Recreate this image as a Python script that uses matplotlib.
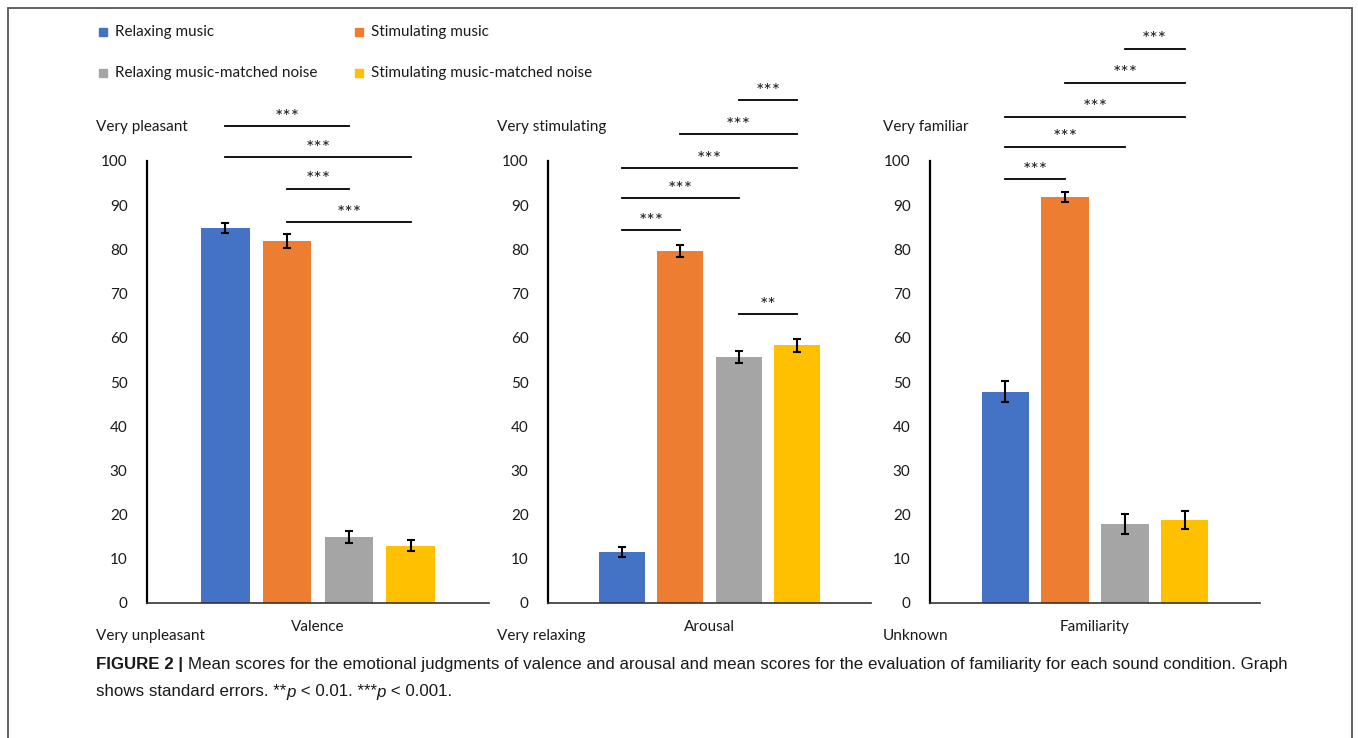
"""Mean valence / arousal / familiarity scores per sound condition."""

import matplotlib
matplotlib.use("Agg")
import matplotlib.pyplot as plt
from matplotlib.patches import Rectangle

conditions = [
    "Relaxing music",
    "Stimulating music",
    "Relaxing music-matched noise",
    "Stimulating music-matched noise",
]
colors = ["#4472C4", "#ED7D31", "#A5A5A5", "#FFC000"]

panel_names = ["Valence", "Arousal", "Familiarity"]
top_labels = ["Very pleasant", "Very stimulating", "Very familiar"]
bottom_labels = ["Very unpleasant", "Very relaxing", "Unknown"]

valence_mean = [84.8, 81.9, 14.9, 13.0]
valence_se = [1.1, 1.5, 1.3, 1.2]
arousal_mean = [11.6, 79.6, 55.6, 58.3]
arousal_se = [1.1, 1.3, 1.4, 1.4]
familiarity_mean = [47.8, 91.8, 17.9, 18.8]
familiarity_se = [2.4, 1.1, 2.2, 2.1]

# significance brackets: (bar from, bar to, height, label)
valence_sig = [(0, 2, 107.9, "***"), (0, 3, 100.9, "***"),
               (1, 2, 93.7, "***"), (1, 3, 86.2, "***")]
arousal_sig = [(2, 3, 113.8, "***"), (1, 3, 106.1, "***"), (0, 3, 98.4, "***"),
               (0, 2, 91.6, "***"), (0, 1, 84.4, "***"), (2, 3, 65.3, "**")]
familiarity_sig = [(2, 3, 125.4, "***"), (1, 3, 117.7, "***"), (0, 3, 110.0, "***"),
                   (0, 2, 103.2, "***"), (0, 1, 95.9, "***")]

means = [valence_mean, arousal_mean, familiarity_mean]
errors = [valence_se, arousal_se, familiarity_se]
sigs = [valence_sig, arousal_sig, familiarity_sig]

W, H = 1358, 738
plt.rcParams["font.family"] = ["Lato", "DejaVu Sans"]

fig = plt.figure(figsize=(W / 100, H / 100), dpi=100)

# outer frame (bottom edge runs off the page)
fig.patches.append(Rectangle((8 / W, -0.05), 1344 / W, (H - 8) / H + 0.05,
                             transform=fig.transFigure, fill=False,
                             edgecolor="#555555", linewidth=1.3))

# pixel extents of each panel's axes: left, right
axes_px = [(147, 489), (548, 871), (930, 1260)]
label_x = [96, 497, 883]
y_top, y_bot = 161, 603
xs = [0, 1, 2, 3]

for k, (x0, x1) in enumerate(axes_px):
    ax = fig.add_axes([x0 / W, (H - y_bot) / H, (x1 - x0) / W, (y_bot - y_top) / H])
    ax.bar(xs, means[k], width=0.79, color=colors)
    ax.errorbar(xs, means[k], yerr=errors[k], fmt="none", ecolor="black",
                elinewidth=1.5, capsize=3, capthick=1.5)
    ax.set_xlim(1.5 - 2.76, 1.5 + 2.76)
    ax.set_ylim(0, 100)
    ax.set_yticks(range(0, 101, 10))
    ax.tick_params(axis="y", length=0, pad=14, labelsize=11, labelcolor="#1a1a1a")
    ax.set_xticks([])
    for s in ("top", "right"):
        ax.spines[s].set_visible(False)
    ax.spines["left"].set_linewidth(1.6)
    ax.spines["bottom"].set_linewidth(1.2)
    ax.spines["bottom"].set_color("#333333")
    ax.set_xlabel(panel_names[k], fontsize=11, labelpad=12, color="#1a1a1a")

    for i, j, h, lab in sigs[k]:
        ax.plot([xs[i], xs[j]], [h, h], color="black", linewidth=1.3, clip_on=False)
        ax.text((xs[i] + xs[j]) / 2, h + 0.1, lab, ha="center", va="bottom",
                fontsize=14, color="#1a1a1a", clip_on=False)

    fig.text(label_x[k] / W, 1 - 127 / H, top_labels[k], fontsize=11,
             va="center", ha="left", color="#1a1a1a")
    fig.text(label_x[k] / W, 1 - 636 / H, bottom_labels[k], fontsize=11,
             va="center", ha="left", color="#1a1a1a")

# legend laid out in a 2x2 grid like the original
leg_pos = [(103, 32), (359, 32), (103, 73), (359, 73)]
for (px, py), name, c in zip(leg_pos, conditions, colors):
    fig.patches.append(Rectangle(((px - 4) / W, 1 - (py + 4) / H), 8 / W, 8 / H,
                                 transform=fig.transFigure, color=c))
    fig.text((px + 12) / W, 1 - py / H, name, fontsize=11, va="center",
             ha="left", color="#1a1a1a")

# caption, drawn piece by piece so bold/italic runs sit next to each other
renderer = fig.canvas.get_renderer()
cap_family = ["Liberation Sans Narrow", "Liberation Sans", "DejaVu Sans"]


def run_text(x_px, y_px, pieces):
    x = x_px
    for txt, weight, style in pieces:
        t = fig.text(x / W, 1 - y_px / H, txt, fontsize=12.2, family=cap_family,
                     weight=weight, style=style, va="center", ha="left",
                     color="#1a1a1a")
        x += t.get_window_extent(renderer).width


run_text(96, 664, [("FIGURE 2 | ", "bold", "normal"),
                   ("Mean scores for the emotional judgments of valence and arousal and "
                    "mean scores for the evaluation of familiarity for each sound "
                    "condition. Graph", "normal", "normal")])
run_text(96, 692, [("shows standard errors. **", "normal", "normal"),
                   ("p", "normal", "italic"),
                   (" < 0.01. ***", "normal", "normal"),
                   ("p", "normal", "italic"),
                   (" < 0.001.", "normal", "normal")])

fig.savefig("out.png", dpi=100)
